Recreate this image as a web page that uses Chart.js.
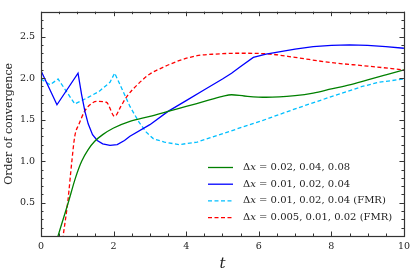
<!DOCTYPE html>
<html>
<head>
<meta charset="utf-8">
<script src="https://cdn.jsdelivr.net/npm/chart.js@4/dist/chart.umd.min.js"></script>
<style>
  html, body { margin: 0; padding: 0; background: #fff; }
  #wrap { width: 415px; height: 276px; }
</style>
</head>
<body>
<div id="wrap"><canvas id="grafico"></canvas></div>
<script>
// datos
const greenT = [0.40, 0.47, 0.75, 0.95, 1.12, 1.3, 1.48, 1.7, 2.0, 2.45, 3.0, 3.5, 4.0, 4.5, 5.0, 5.25, 5.6, 6.2, 7.0, 7.5, 8.0, 8.5, 9.0, 9.5, 10];
const greenY = [-0.01, 0.1, 0.5, 0.8, 1.0, 1.14, 1.24, 1.32, 1.40, 1.48, 1.54, 1.60, 1.66, 1.72, 1.78, 1.80, 1.785, 1.77, 1.79, 1.82, 1.87, 1.92, 1.98, 2.04, 2.10];

const blueT = [0, 0.44, 1.02, 1.12, 1.21, 1.3, 1.42, 1.55, 1.7, 1.9, 2.1, 2.3, 2.45, 3.0, 3.5, 4.0, 4.5, 5.0, 5.25, 5.5, 5.85, 6.2, 7.0, 7.5, 8.0, 8.5, 9.0, 9.5, 10];
const blueY = [2.09, 1.68, 2.06, 1.80, 1.60, 1.45, 1.32, 1.25, 1.21, 1.19, 1.20, 1.25, 1.30, 1.44, 1.60, 1.73, 1.86, 1.99, 2.06, 2.14, 2.25, 2.29, 2.35, 2.38, 2.395, 2.40, 2.395, 2.38, 2.36];

const cyanT = [0, 0.25, 0.47, 0.93, 1.26, 1.6, 1.9, 2.03, 2.2, 2.45, 2.7, 2.9, 3.1, 3.4, 3.8, 4.3, 5.2, 6.1, 7.0, 7.95, 8.85, 9.3, 10];
const cyanY = [1.99, 1.92, 1.99, 1.69, 1.76, 1.84, 1.95, 2.06, 1.90, 1.66, 1.47, 1.35, 1.27, 1.23, 1.20, 1.23, 1.36, 1.49, 1.63, 1.77, 1.90, 1.95, 1.99];

const redT = [0.55, 0.61, 0.74, 0.85, 0.93, 1.05, 1.2, 1.35, 1.53, 1.8, 2.03, 2.2, 2.35, 2.7, 3.0, 3.36, 3.8, 4.3, 4.8, 5.47, 6.3, 7.0, 7.95, 9.0, 10];
const redY = [-0.1, 0.1, 0.52, 1.0, 1.3, 1.45, 1.6, 1.68, 1.72, 1.71, 1.54, 1.66, 1.77, 1.94, 2.05, 2.13, 2.21, 2.27, 2.29, 2.30, 2.29, 2.25, 2.19, 2.145, 2.10];

const etiquetas = [
  'Δx = 0.02, 0.04, 0.08',
  'Δx = 0.01, 0.02, 0.04',
  'Δx = 0.01, 0.02, 0.04 (FMR)',
  'Δx = 0.005, 0.01, 0.02 (FMR)'
];

const ticksX = [0, 2, 4, 6, 8, 10];
const ticksY = [0.5, 1.0, 1.5, 2.0, 2.5];

const puntos = (ts, ys) => ts.map((t, i) => ({ x: t, y: ys[i] }));

const FUENTE = "'DejaVu Serif', serif";
const COLOR_EJE = '#333';

// marco y marcas hacia adentro (estilo matplotlib)
const marcasPlugin = {
  id: 'marcas',
  afterDraw(chart) {
    const { ctx, chartArea: a, scales } = chart;
    const sx = scales.x, sy = scales.y;
    ctx.save();
    ctx.strokeStyle = COLOR_EJE;
    ctx.lineWidth = 1;

    const tick = (x1, y1, x2, y2) => {
      ctx.beginPath();
      ctx.moveTo(x1, y1);
      ctx.lineTo(x2, y2);
      ctx.stroke();
    };

    for (let v = 0; v <= 10.001; v += 0.5) {
      const x = Math.round(sx.getPixelForValue(v)) + 0.5;
      const len = Math.abs(v / 2 - Math.round(v / 2)) < 1e-6 ? 4.5 : 2.5;
      tick(x, a.bottom, x, a.bottom - len);
      tick(x, a.top, x, a.top + len);
    }
    for (let v = 0.2; v <= 2.8001; v += 0.1) {
      const y = Math.round(sy.getPixelForValue(v)) + 0.5;
      const esMayor = Math.abs(v * 2 - Math.round(v * 2)) < 1e-6;
      const len = esMayor ? 4.5 : 2.5;
      tick(a.left, y, a.left + len, y);
      tick(a.right, y, a.right - len, y);
    }

    ctx.lineWidth = 1.2;
    ctx.strokeRect(Math.round(a.left) + 0.5, Math.round(a.top) + 0.5,
      Math.round(a.right - a.left), Math.round(a.bottom - a.top));
    ctx.restore();
  }
};

// leyenda propia con la x en cursiva
const leyendaPlugin = {
  id: 'leyenda',
  afterDraw(chart) {
    const { ctx } = chart;
    const x0 = 208, x1 = 233, xt = 243;
    const y0 = 167.5, paso = 16.7;
    ctx.save();
    ctx.textBaseline = 'middle';
    ctx.fillStyle = '#222';
    chart.data.datasets.forEach((ds, i) => {
      const y = y0 + i * paso;
      ctx.strokeStyle = ds.borderColor;
      ctx.lineWidth = ds.borderWidth;
      ctx.setLineDash(ds.borderDash || []);
      ctx.beginPath();
      ctx.moveTo(x0, y);
      ctx.lineTo(x1, y);
      ctx.stroke();
      ctx.setLineDash([]);

      const txt = ds.label;
      const k = txt.indexOf('x');
      let x = xt;
      ctx.font = `10px ${FUENTE}`;
      ctx.fillText(txt.slice(0, k), x, y);
      x += ctx.measureText(txt.slice(0, k)).width;
      ctx.font = `italic 10px ${FUENTE}`;
      ctx.fillText('x', x, y);
      x += ctx.measureText('x').width;
      ctx.font = `10px ${FUENTE}`;
      ctx.fillText(txt.slice(k + 1), x, y);
    });
    ctx.restore();
  }
};

const lineaBase = { pointRadius: 0, borderWidth: 1.3, fill: false, tension: 0 };

new Chart(document.getElementById('grafico').getContext('2d'), {
  type: 'line',
  data: {
    datasets: [
      { ...lineaBase, label: etiquetas[0], data: puntos(greenT, greenY), borderColor: '#008000', cubicInterpolationMode: 'monotone' },
      { ...lineaBase, label: etiquetas[1], data: puntos(blueT, blueY), borderColor: '#0000ff' },
      { ...lineaBase, label: etiquetas[2], data: puntos(cyanT, cyanY), borderColor: '#00bfff', borderDash: [4, 2.5] },
      { ...lineaBase, label: etiquetas[3], data: puntos(redT, redY), borderColor: '#ff0000', borderDash: [4, 2.5], cubicInterpolationMode: 'monotone' }
    ]
  },
  options: {
    responsive: true,
    maintainAspectRatio: false,
    animation: false,
    layout: { padding: { top: 4, right: 10, left: 0, bottom: 0 } },
    plugins: {
      legend: { display: false },
      tooltip: { enabled: false }
    },
    scales: {
      x: {
        type: 'linear',
        min: 0,
        max: 10,
        grid: { display: false, drawTicks: false },
        border: { display: false },
        afterBuildTicks: scale => { scale.ticks = ticksX.map(v => ({ value: v })); },
        afterFit: scale => { scale.height = 40; },
        ticks: {
          padding: 5,
          color: '#222',
          maxRotation: 0,
          font: { family: FUENTE, size: 9.5 },
          callback: v => String(v)
        },
        title: {
          display: true,
          text: 't',
          color: '#222',
          padding: { top: 0, bottom: 3 },
          font: { family: FUENTE, size: 15, style: 'italic' }
        }
      },
      y: {
        type: 'linear',
        min: 0.1,
        max: 2.8,
        grid: { display: false, drawTicks: false },
        border: { display: false },
        afterBuildTicks: scale => { scale.ticks = ticksY.map(v => ({ value: v })); },
        afterFit: scale => { scale.width = 41; },
        ticks: {
          padding: 6,
          color: '#222',
          font: { family: FUENTE, size: 9.5 },
          callback: v => Number(v).toFixed(1)
        },
        title: {
          display: true,
          text: 'Order of convergence',
          color: '#222',
          padding: { top: 3, bottom: 0 },
          font: { family: FUENTE, size: 11 }
        }
      }
    }
  },
  plugins: [marcasPlugin, leyendaPlugin]
});
</script>
</body>
</html>
